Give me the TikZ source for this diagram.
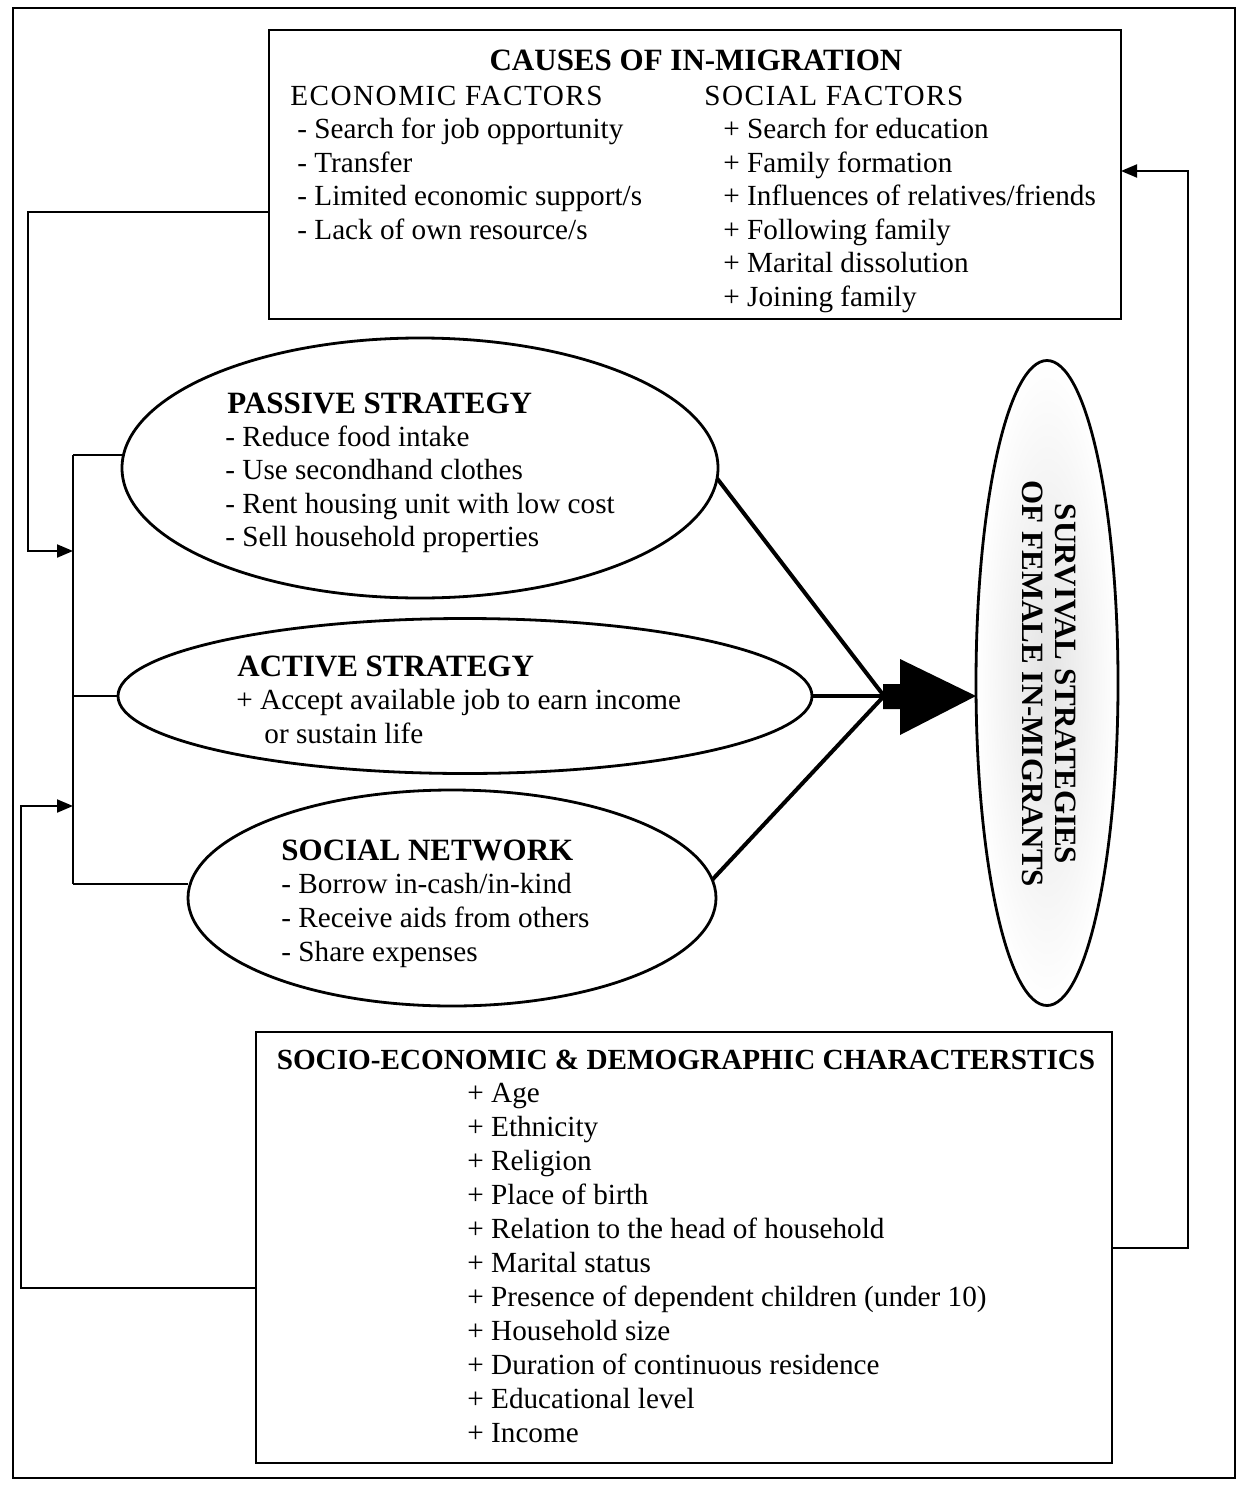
\documentclass[tikz,border=0pt]{standalone}
\usepackage{fontspec}
\setmainfont{Liberation Serif}
\usetikzlibrary{arrows.meta,shapes.geometric,fit,calc}
\begin{document}
\begin{tikzpicture}[x=0.5pt,y=-0.5pt,
  box/.style={draw, line width=1.2pt, inner sep=0pt, outer sep=0pt},
  ell/.style={draw, ellipse, line width=1.4pt, inner sep=0pt, outer sep=0pt},
  conn/.style={line width=1pt},
  arr/.style={conn, -{Triangle[length=8pt,width=6.5pt]}},
  feed/.style={line width=2pt},
  txt/.style={anchor=base west, inner sep=0pt, font=\fontsize{14.6pt}{17pt}\selectfont},
  wtxt/.style={txt, font=\fontsize{14.6pt}{17pt}\selectfont\addfontfeature{LetterSpace=5}},
  hd/.style={anchor=base west, inner sep=0pt, font=\bfseries\fontsize{15.5pt}{17pt}\selectfont},
]
\useasboundingbox (0,0) rectangle (1247,1487);
\draw[line width=0.9pt] (13,8) rectangle (1235,1478);

% boxes
\node[box, fit={(269,30) (1121,319)}] (causes) {};
\node[box, fit={(256,1032) (1112,1463)}] (socio) {};

% ellipses
\node[ell, minimum width=298pt, minimum height=130pt] (passive) at (420,468) {};
\node[ell, minimum width=347pt, minimum height=77.5pt] (active) at (465,696) {};
\node[ell, minimum width=264pt, minimum height=108pt] (social) at (452,898) {};
\node[ell, minimum width=71pt, minimum height=322.5pt, shade, inner color=gray!22, outer color=white] (surv) at (1047,683) {};

% causes text
\node[hd, anchor=base] (ctitle) at (696,71) {CAUSES OF IN-MIGRATION};
\node[wtxt] (econ) at (290,106) {ECONOMIC FACTORS};
\node[wtxt] (socf) at (704,106) {SOCIAL FACTORS};
\foreach \t [count=\i from 0] in {- Search for job opportunity, - Transfer, - Limited economic support/s, - Lack of own resource/s}
  \node[txt] (e\i) at (297,{139+33.4*\i}) {\t};
\foreach \t [count=\i from 0] in {+ Search for education, + Family formation, + Influences of relatives/friends, + Following family, + Marital dissolution, + Joining family}
  \node[txt] (s\i) at (723,{139+33.4*\i}) {\t};

% passive
\node[hd] (ptitle) at (227,413) {PASSIVE STRATEGY};
\foreach \t [count=\i from 0] in {- Reduce food intake, - Use secondhand clothes, - Rent housing unit with low cost, - Sell household properties}
  \node[txt] (p\i) at (225,{446+33.6*\i}) {\t};

% active
\node[hd] (atitle) at (237,676) {ACTIVE STRATEGY};
\node[txt] (a0) at (236,709) {+ Accept available job to earn income};
\node[txt] (a1) at (264,743) {or sustain life};

% social network
\node[hd] (ntitle) at (281,860) {SOCIAL NETWORK};
\foreach \t [count=\i from 0] in {- Borrow in-cash/in-kind, - Receive aids from others, - Share expenses}
  \node[txt] (n\i) at (281,{893+34*\i}) {\t};

% socio-economic
\node[hd, anchor=base, font=\bfseries\fontsize{14.6pt}{17pt}\selectfont] (stitle) at (686,1069) {SOCIO-ECONOMIC \& DEMOGRAPHIC CHARACTERSTICS};
\foreach \t [count=\i from 0] in {+ Age, + Ethnicity, + Religion, + Place of birth, + Relation to the head of household, + Marital status, + Presence of dependent children (under 10), + Household size, + Duration of continuous residence, + Educational level, + Income}
  \node[txt] (d\i) at (467,{1102+34*\i}) {\t};

% survival text
\node[rotate=-90, align=center, inner sep=0pt, font=\bfseries\fontsize{15.5pt}{16.5pt}\selectfont] (survtxt) at (1049,684) {SURVIVAL STRATEGIES\\OF FEMALE IN-MIGRANTS};

% thick connectors to hub and block arrow
\coordinate (hub) at (884,696);
\coordinate (tip) at (surv.west |- hub);
\draw[feed] (passive.-2) -- (hub);
\draw[feed] (active.east) -- (hub);
\draw[feed] (social.4) -- (hub);
\fill ($(hub)+(-1,-12)$) -- ($(hub)+(16,-12)$) -- ($(hub)+(16,-37)$) -- (tip)
  -- ($(hub)+(16,39)$) -- ($(hub)+(16,13)$) -- ($(hub)+(-1,13)$) -- cycle;

% left bus
\coordinate (busT) at (73,455);
\coordinate (busB) at (73,884);
\draw[conn] (busT) -- (busB);
\draw[conn] (busT) -- (busT -| passive.west);
\draw[conn] (active.west) -- (active.west -| busT);
\draw[conn] (busB) -- (busB -| social.west);

% feedback loops
\coordinate (fbL1) at (28,212);
\coordinate (in1) at (73,551);
\draw[arr] (causes.west |- fbL1) -- (fbL1) |- (in1);
\coordinate (fbL2) at (21,1288);
\coordinate (in2) at (73,806);
\draw[arr] (socio.west |- fbL2) -- (fbL2) |- (in2);
\coordinate (fbR) at (1188,1248);
\coordinate (fbRt) at (1188,171);
\draw[arr] (socio.east |- fbR) -- (fbR) -- (fbRt) -- (causes.east |- fbRt);
\end{tikzpicture}
\end{document}
